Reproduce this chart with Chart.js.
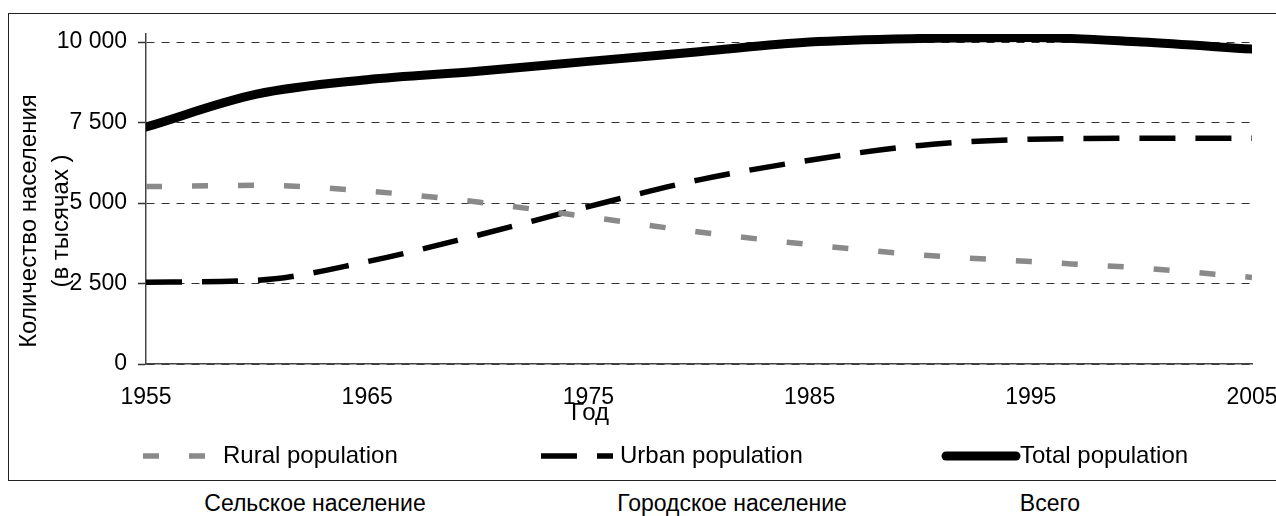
<!DOCTYPE html>
<html>
<head>
<meta charset="utf-8">
<script src="https://cdn.jsdelivr.net/npm/chart.js"></script>
<style>
body{margin:0;background:#fff;font-family:"Liberation Sans",Arial,sans-serif;}
#grafico{position:absolute;left:0;top:0;}
#marco{position:absolute;left:8px;top:13px;width:1300px;height:466px;border:1.5px solid #222;pointer-events:none;}
.etiqueta{position:absolute;top:492px;font-size:23px;line-height:23px;transform:translateX(-50%);white-space:nowrap;color:#000;}
</style>
</head>
<body>
<canvas id="grafico" width="1276" height="481"></canvas>
<div id="marco"></div>
<div class="etiqueta" style="left:315px">Сельское население</div>
<div class="etiqueta" style="left:732px">Городское население</div>
<div class="etiqueta" style="left:1050px">Всего</div>
<script>
var anios = [1955, 1960, 1965, 1970, 1975, 1980, 1985, 1990, 1995, 2000, 2005];
var rural = [5510, 5550, 5370, 5030, 4570, 4100, 3710, 3390, 3180, 2980, 2690];
var urbana = [2540, 2600, 3180, 4000, 4890, 5720, 6330, 6790, 6980, 7010, 7010];
var total = [7360, 8380, 8830, 9090, 9400, 9700, 10000, 10110, 10140, 10000, 9780];
var ticksX = [1955, 1965, 1975, 1985, 1995, 2005];
var ticksY = [0, 2500, 5000, 7500, 10000];
var nombres = ['Rural population', 'Urban population', 'Total population'];

var fuente = '"Liberation Sans", Arial, sans-serif';

puntos=(valores)=>anios.map((a,i)=>({x:a, y:valores[i]}));
miles=(v)=>String(v).replace(/\B(?=(\d{3})+(?!\d))/g,' ');

// leyenda y titulos dibujados a mano
var extras = {
	id:'extras',
	afterDraw:(chart)=>{
		var ctx = chart.ctx;
		var pos = [[143,72,223],[541,72,620],[946,70,1020]];
		ctx.save();
		chart.data.datasets.forEach((ds,i)=>{
			ctx.strokeStyle = ds.borderColor;
			ctx.lineWidth = ds.borderWidth;
			ctx.lineCap = ds.borderCapStyle || 'butt';
			ctx.setLineDash(ds.borderDash || []);
			ctx.beginPath();
			ctx.moveTo(pos[i][0],456);
			ctx.lineTo(pos[i][0]+pos[i][1],456);
			ctx.stroke();
			ctx.setLineDash([]);
			ctx.fillStyle = '#000';
			ctx.font = '24px ' + fuente;
			ctx.textBaseline = 'middle';
			ctx.textAlign = 'left';
			ctx.fillText(ds.label,pos[i][2],456);
		});
		ctx.font = '24px ' + fuente;
		ctx.fillStyle = '#000';
		ctx.textAlign = 'center';
		ctx.textBaseline = 'middle';
		ctx.fillText('Год',590,413);
		ctx.textBaseline = 'alphabetic';
		ctx.translate(36,221);
		ctx.rotate(-Math.PI/2);
		ctx.fillText('Количество населения',0,0);
		ctx.fillText('(в тысячах )',0,32);
		ctx.restore();
	}
};

var chart = new Chart(document.getElementById('grafico').getContext('2d'), {
	type: 'line',
	data: {
		datasets: [
			{label:nombres[0], data:puntos(rural), borderColor:'#8a8a8a', borderWidth:5.5, borderDash:[16,30], pointRadius:0, cubicInterpolationMode:'monotone', fill:false},
			{label:nombres[1], data:puntos(urbana), borderColor:'#000', borderWidth:5.5, borderDash:[36,20], pointRadius:0, cubicInterpolationMode:'monotone', fill:false},
			{label:nombres[2], data:puntos(total), borderColor:'#000', borderWidth:9, borderCapStyle:'round', pointRadius:0, cubicInterpolationMode:'monotone', fill:false}
		]
	},
	options: {
		responsive:false,
		animation:false,
		devicePixelRatio:1,
		layout:{padding:{left:0,right:24,top:34,bottom:57}},
		plugins:{legend:{display:false}, tooltip:{enabled:false}},
		scales:{
			x:{
				type:'linear', min:1955, max:2005,
				afterBuildTicks:(s)=>{ s.ticks = ticksX.map(v=>({value:v})); },
				afterFit:(s)=>{ s.height = 60; s.paddingLeft = 0; s.paddingRight = 0; },
				grid:{display:true, drawOnChartArea:false, drawTicks:false},
				border:{display:true, color:'#444', width:1.5},
				ticks:{padding:20, color:'#000', maxRotation:0, autoSkip:false, font:{family:fuente, size:23}, callback:(v)=>String(v)}
			},
			y:{
				min:0, max:10250,
				afterBuildTicks:(s)=>{ s.ticks = ticksY.map(v=>({value:v})); },
				afterFit:(s)=>{ s.width = 146; s.paddingTop = 0; s.paddingBottom = 0; },
				grid:{color:'#333', lineWidth:1, tickLength:8, tickColor:'#333', tickWidth:1.5},
				border:{display:true, color:'#444', width:1.5, dash:[8,7]},
				ticks:{padding:11, color:'#000', font:{family:fuente, size:23}, callback:(v)=>miles(v)}
			}
		}
	},
	plugins:[extras]
});
</script>
</body>
</html>
